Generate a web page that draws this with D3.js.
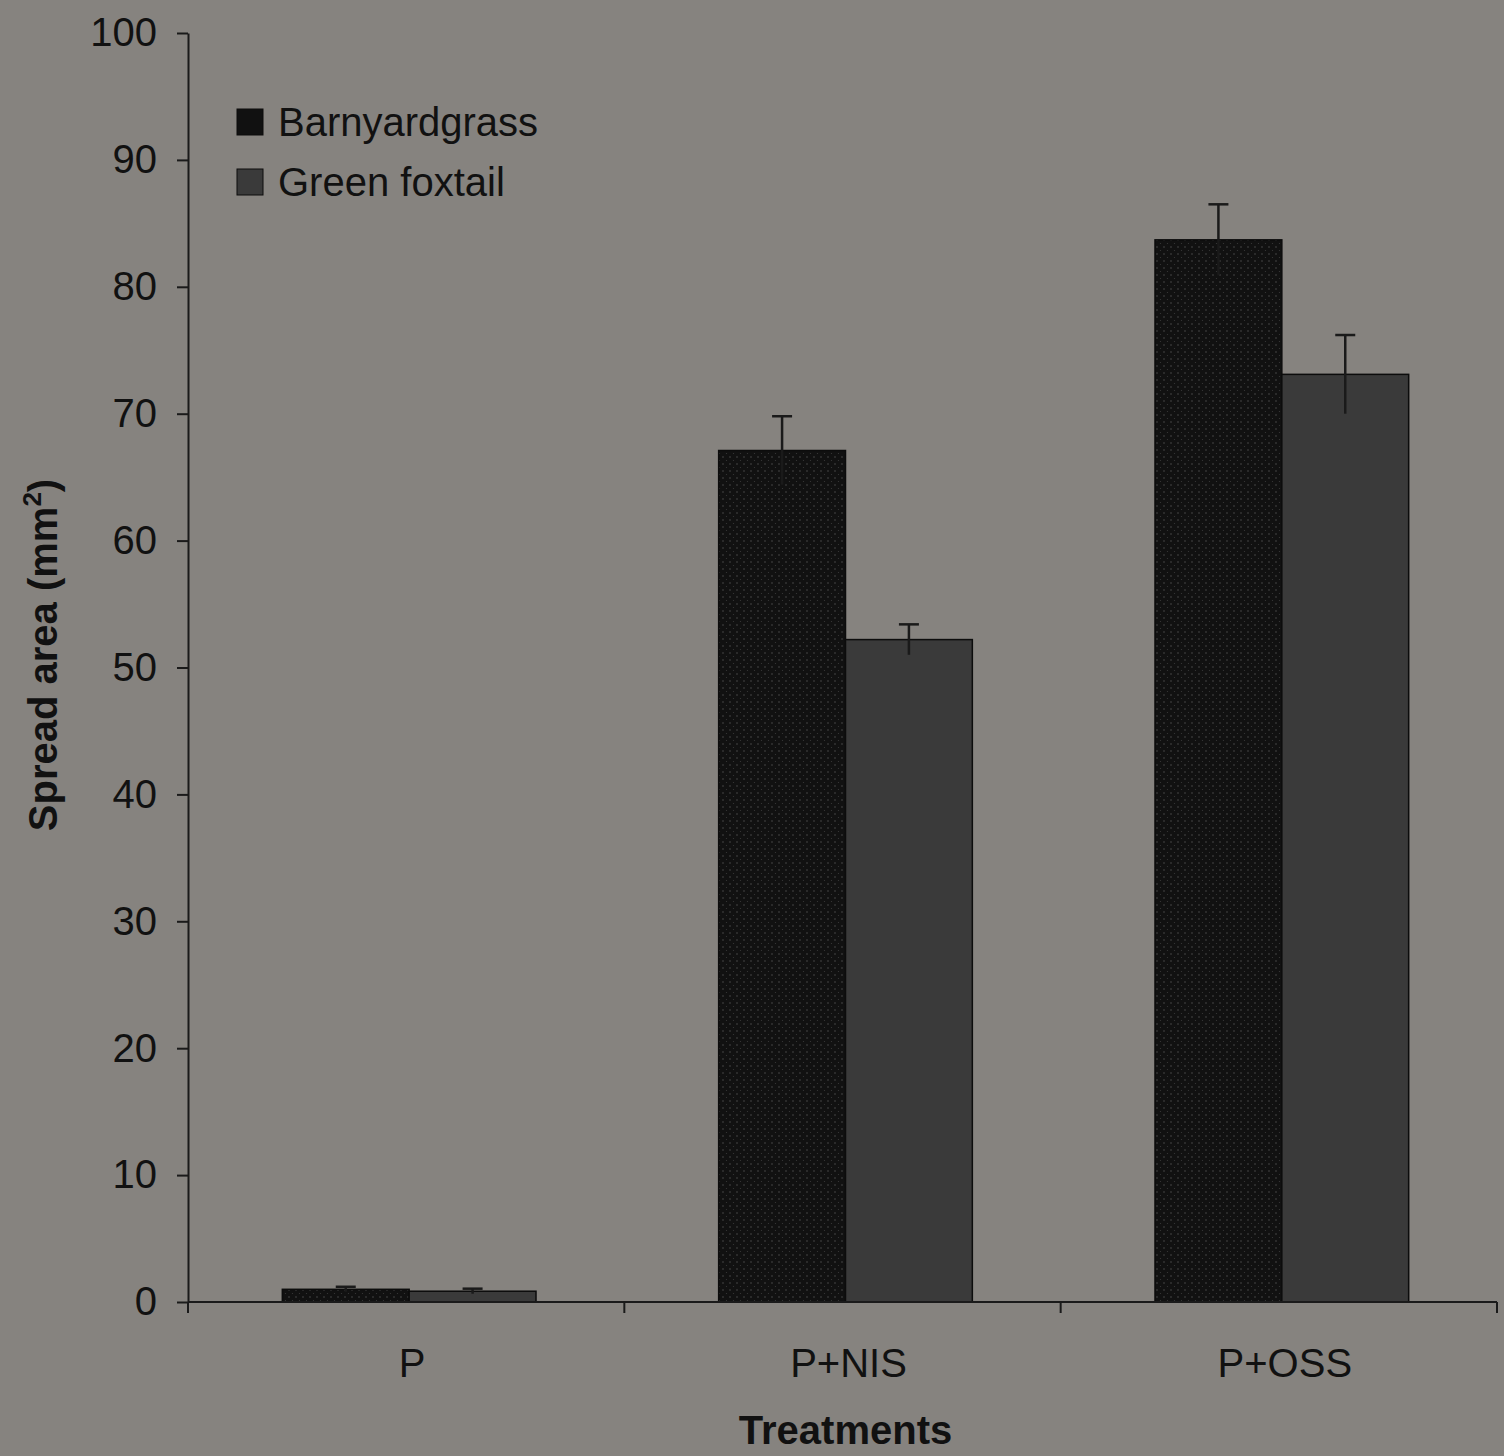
<!DOCTYPE html>
<html>
<head>
<meta charset="utf-8">
<script src="https://cdn.jsdelivr.net/npm/d3@7"></script>
<style>
  body { margin: 0; background: #86837f; }
  svg { display: block; font-family: "Liberation Sans", Arial, sans-serif; }
</style>
</head>
<body>
<svg></svg>
<script>
let categories = ["P", "P+NIS", "P+OSS"];
let seriesNames = ["Barnyardgrass", "Green foxtail"];
let barnyardValues = [1.0, 67.1, 83.7];
let barnyardErrors = [0.2, 2.7, 2.8];
let foxtailValues = [0.85, 52.2, 73.1];
let foxtailErrors = [0.2, 1.2, 3.1];
let yTicks = [0, 10, 20, 30, 40, 50, 60, 70, 80, 90, 100];

let width = 1504;
let height = 1456;
let plotLeft = 188;
let plotRight = 1497;
let plotTop = 33;
let plotBottom = 1302;

let colors = ["#111111", "#3a3a3a"];

let svg = d3.select("svg")
    .attr("width", width)
    .attr("height", height);

// speckle pattern for the dark bars
let defs = svg.append("defs");
let pat = defs.append("pattern")
    .attr("id", "dots")
    .attr("patternUnits", "userSpaceOnUse")
    .attr("width", 7)
    .attr("height", 7);
pat.append("rect").attr("width", 7).attr("height", 7).attr("fill", colors[0]);
pat.append("circle").attr("cx", 2).attr("cy", 2).attr("r", 0.8).attr("fill", "#4a4a4a");
pat.append("circle").attr("cx", 5.5).attr("cy", 5.5).attr("r", 0.6).attr("fill", "#3a3a3a");

let xScale = d3.scaleBand()
    .domain(categories)
    .range([plotLeft, plotRight]);

let innerScale = d3.scaleBand()
    .domain(seriesNames)
    .range([0, xScale.bandwidth()])
    .paddingOuter(0.72)
    .paddingInner(0);

let yScale = d3.scaleLinear()
    .domain([0, 100])
    .range([plotBottom, plotTop]);

let rows = [];
categories.forEach((c, i) => {
    rows.push({cat: c, series: seriesNames[0], value: barnyardValues[i], err: barnyardErrors[i], idx: 0});
    rows.push({cat: c, series: seriesNames[1], value: foxtailValues[i], err: foxtailErrors[i], idx: 1});
});

// groups sit a few px right of the band centre in the original
let shift = 3;

// bars
svg.selectAll("rect.bar")
    .data(rows)
    .enter()
    .append("rect")
    .attr("class", "bar")
    .attr("x", d => xScale(d.cat) + innerScale(d.series) + shift)
    .attr("width", innerScale.bandwidth())
    .attr("y", d => yScale(d.value))
    .attr("height", d => yScale(0) - yScale(d.value))
    .attr("fill", d => d.idx == 0 ? "url(#dots)" : colors[1])
    .attr("stroke", "#0c0c0c")
    .attr("stroke-width", 1.5);

// error bars
let errG = svg.append("g")
    .attr("stroke", "#1a1a1a")
    .attr("stroke-width", 2.5);

rows.forEach(d => {
    let cx = xScale(d.cat) + innerScale(d.series) + innerScale.bandwidth() / 2 + shift;
    errG.append("line")
        .attr("x1", cx).attr("x2", cx)
        .attr("y1", yScale(d.value - d.err))
        .attr("y2", yScale(d.value + d.err));
    errG.append("line")
        .attr("x1", cx - 10).attr("x2", cx + 10)
        .attr("y1", yScale(d.value + d.err))
        .attr("y2", yScale(d.value + d.err));
});

// y axis
let yAxis = d3.axisLeft(yScale)
    .tickValues(yTicks)
    .tickSize(11)
    .tickPadding(20)
    .tickSizeOuter(0);

let yG = svg.append("g")
    .attr("transform", "translate(" + plotLeft + ",0)")
    .call(yAxis);
yG.select(".domain").attr("stroke", "#1a1a1a").attr("stroke-width", 2);
yG.selectAll(".tick line").attr("stroke", "#1a1a1a").attr("stroke-width", 2);
yG.selectAll(".tick text")
    .style("font-size", "40px")
    .attr("fill", "#111");

// x axis line with category boundary ticks
let xG = svg.append("g");
xG.append("line")
    .attr("x1", plotLeft).attr("x2", plotRight)
    .attr("y1", plotBottom).attr("y2", plotBottom)
    .attr("stroke", "#1a1a1a")
    .attr("stroke-width", 2);
let boundaries = categories.map(c => xScale(c)).concat([xScale(categories[categories.length - 1]) + xScale.bandwidth()]);
xG.selectAll("line.bt")
    .data(boundaries)
    .enter()
    .append("line")
    .attr("class", "bt")
    .attr("x1", d => d).attr("x2", d => d)
    .attr("y1", plotBottom).attr("y2", plotBottom + 11)
    .attr("stroke", "#1a1a1a")
    .attr("stroke-width", 2);
xG.selectAll("text.cat")
    .data(categories)
    .enter()
    .append("text")
    .attr("class", "cat")
    .attr("x", d => xScale(d) + xScale.bandwidth() / 2 + 6)
    .attr("y", 1377)
    .attr("text-anchor", "middle")
    .style("font-size", "40px")
    .attr("fill", "#111")
    .text(d => d);

// axis titles
svg.append("text")
    .attr("x", (plotLeft + plotRight) / 2 + 3)
    .attr("y", 1444)
    .attr("text-anchor", "middle")
    .style("font-size", "40px")
    .style("font-weight", "bold")
    .attr("fill", "#111")
    .text("Treatments");

let yTitle = svg.append("text")
    .attr("transform", "translate(57,655)rotate(-90)")
    .attr("text-anchor", "middle")
    .style("font-size", "40px")
    .style("font-weight", "bold")
    .attr("fill", "#111");
yTitle.append("tspan").text("Spread area (mm");
yTitle.append("tspan").attr("dy", -16).style("font-size", "26px").text("2");
yTitle.append("tspan").attr("dy", 16).text(")");

// legend
let legend = svg.append("g");
seriesNames.forEach((s, i) => {
    legend.append("rect")
        .attr("x", 237)
        .attr("y", 109 + i * 60)
        .attr("width", 26)
        .attr("height", 26)
        .attr("fill", colors[i])
        .attr("stroke", "#0c0c0c");
    legend.append("text")
        .attr("x", 278)
        .attr("y", 136 + i * 60)
        .style("font-size", "40px")
        .attr("fill", "#111")
        .text(s);
});
</script>
</body>
</html>
